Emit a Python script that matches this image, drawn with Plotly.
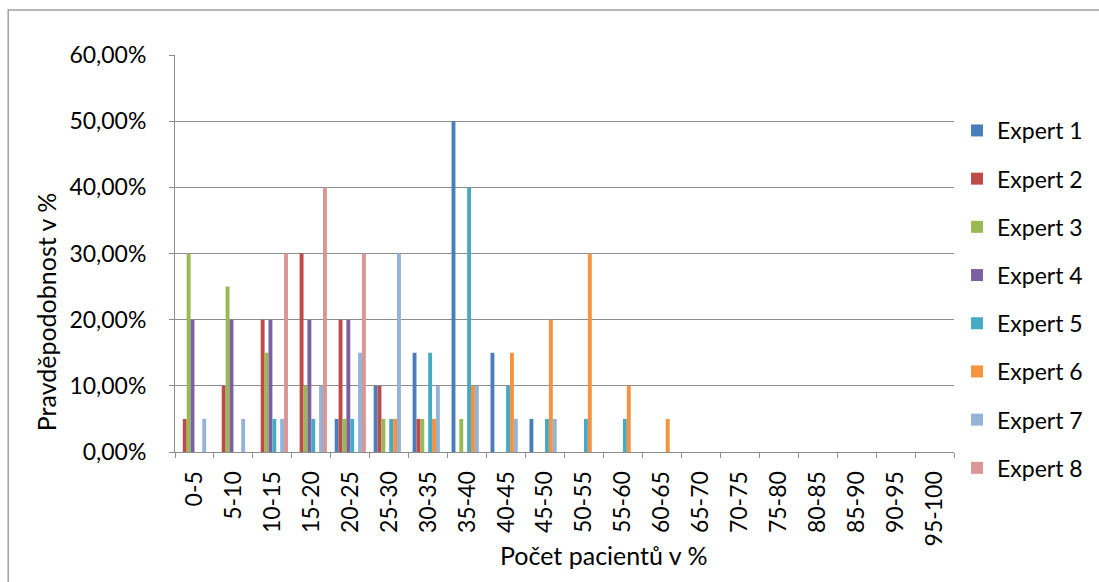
import plotly.graph_objects as go

# Intervals of patient share (x categories)
categories = ["0-5", "5-10", "10-15", "15-20", "20-25", "25-30", "30-35", "35-40",
              "40-45", "45-50", "50-55", "55-60", "60-65", "65-70", "70-75", "75-80",
              "80-85", "85-90", "90-95", "95-100"]

# Probability (in %) assigned by each expert to each interval
expert_1 = [0, 0, 0, 0, 5, 10, 15, 50, 15, 5, 0, 0, 0, 0, 0, 0, 0, 0, 0, 0]
expert_2 = [5, 10, 20, 30, 20, 10, 5, 0, 0, 0, 0, 0, 0, 0, 0, 0, 0, 0, 0, 0]
expert_3 = [30, 25, 15, 10, 5, 5, 5, 5, 0, 0, 0, 0, 0, 0, 0, 0, 0, 0, 0, 0]
expert_4 = [20, 20, 20, 20, 20, 0, 0, 0, 0, 0, 0, 0, 0, 0, 0, 0, 0, 0, 0, 0]
expert_5 = [0, 0, 5, 5, 5, 5, 15, 40, 10, 5, 5, 5, 0, 0, 0, 0, 0, 0, 0, 0]
expert_6 = [0, 0, 0, 0, 0, 5, 5, 10, 15, 20, 30, 10, 5, 0, 0, 0, 0, 0, 0, 0]
expert_7 = [5, 5, 5, 10, 15, 30, 10, 10, 5, 5, 0, 0, 0, 0, 0, 0, 0, 0, 0, 0]
expert_8 = [0, 0, 30, 40, 30, 0, 0, 0, 0, 0, 0, 0, 0, 0, 0, 0, 0, 0, 0, 0]

series_names = ["Expert 1", "Expert 2", "Expert 3", "Expert 4",
                "Expert 5", "Expert 6", "Expert 7", "Expert 8"]
series_values = [expert_1, expert_2, expert_3, expert_4,
                 expert_5, expert_6, expert_7, expert_8]
colors = ["#4A7EBB", "#BE4B48", "#98B954", "#7D60A0",
          "#46AAC5", "#F69240", "#95B3D7", "#D99694"]

FONT = "Lato"
TICK_SIZE = 23
LEGEND_SIZE = 23
TITLE_SIZE = 25
GRID = "#8C8C8C"

fig = go.Figure()
for i, (name, vals, col) in enumerate(zip(series_names, series_values, colors)):
    fig.add_trace(go.Bar(
        x=categories,
        y=[v / 100 for v in vals],
        name=name,
        legendgroup=f"g{i}",
        marker=dict(color=col, line=dict(width=0)),
    ))

fig.update_layout(
    width=1099, height=582,
    margin=dict(l=175, r=144, t=55, b=130),
    paper_bgcolor="white", plot_bgcolor="white",
    barmode="group", bargap=0.2, bargroupgap=0,
    separators=",.",
    font=dict(family=FONT, size=TICK_SIZE, color="black"),
    showlegend=True,
    legend=dict(
        x=1.0026, y=0.864, xanchor="left", yanchor="top",
        font=dict(family=FONT, size=LEGEND_SIZE, color="black"),
        tracegroupgap=15.3, itemclick=False,
        bgcolor="rgba(0,0,0,0)",
    ),
    xaxis=dict(
        type="category", tickangle=-90, tickson="boundaries",
        ticks="outside", ticklen=5, tickcolor=GRID,
        showline=True, linecolor=GRID, linewidth=1,
        showgrid=False, ticklabelstandoff=9,
        tickfont=dict(family=FONT, size=TICK_SIZE),
    ),
    yaxis=dict(
        range=[0, 0.6], dtick=0.1, tickformat=".2%",
        ticks="outside", ticklen=5, tickcolor=GRID,
        showline=True, linecolor=GRID, linewidth=1,
        showgrid=True, gridcolor=GRID, gridwidth=1,
        zeroline=False, ticklabelstandoff=18,
        tickfont=dict(family=FONT, size=TICK_SIZE),
    ),
    shapes=[dict(type="rect", xref="paper", yref="paper",
                 x0=-0.2141, y0=-0.35, x1=1.25, y1=1.1134,
                 line=dict(color="#A0A0A0", width=1.5), layer="below")],
    annotations=[
        dict(text="Pravděpodobnost v %", xref="paper", yref="paper",
             x=-0.1654, y=0.3526, xanchor="center", yanchor="middle",
             textangle=-90, showarrow=False,
             font=dict(family=FONT, size=TITLE_SIZE)),
        dict(text="Počet pacientů v %", xref="paper", yref="paper",
             x=0.5513, y=-0.2594, xanchor="center", yanchor="middle",
             showarrow=False,
             font=dict(family=FONT, size=TITLE_SIZE)),
    ],
)

fig.write_html("out.html")
